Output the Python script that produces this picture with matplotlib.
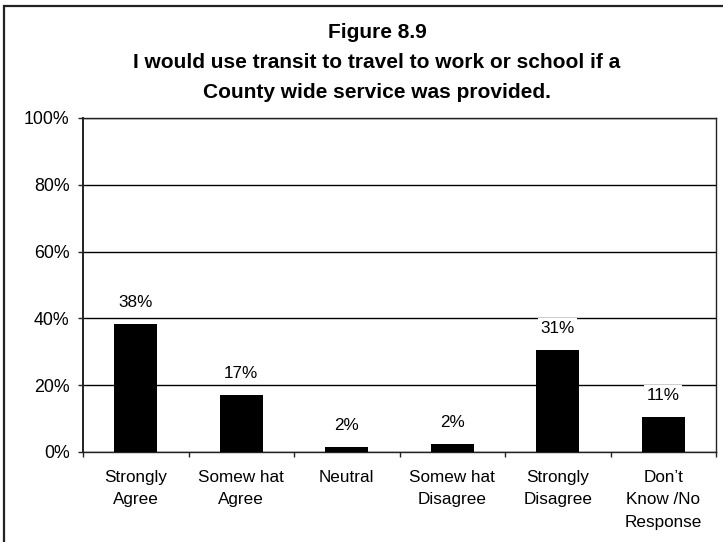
import matplotlib
matplotlib.use("Agg")
import matplotlib.pyplot as plt
from matplotlib.patches import Rectangle
from matplotlib.ticker import FixedLocator, FuncFormatter
import numpy as np

# Survey responses (share of respondents, %)
categories = ["Strongly\nAgree", "Somew hat\nAgree", "Neutral",
              "Somew hat\nDisagree", "Strongly\nDisagree",
              "Don\u2019t\nKnow /No\nResponse"]
shares = [38.4, 17.0, 1.5, 2.4, 30.6, 10.6]
y_ticks = [0, 20, 40, 60, 80, 100]

title_lines = ["Figure 8.9",
               "I would use transit to travel to work or school if a",
               "County wide service was provided."]

plt.rcParams["font.family"] = ["Liberation Sans", "DejaVu Sans"]

W, H, DPI = 723, 542, 100
fig = plt.figure(figsize=(W / DPI, H / DPI), dpi=DPI)
fig.patch.set_facecolor("white")

# Chart-area frame (runs off the right and bottom edges)
fig.add_artist(Rectangle((4 / W, -0.05), 1.2, 1 - 6 / H + 0.05,
                         transform=fig.transFigure, fill=False,
                         edgecolor="#222222", linewidth=1.6))

ax = fig.add_axes([83 / W, 1 - 452 / H, (716 - 83) / W, (452 - 118) / H])

x = np.arange(len(categories))
ax.bar(x, shares, width=0.41, color="black", zorder=3)

for xi, v in zip(x, shares):
    ax.annotate(f"{v:.0f}%", (xi, v), xytext=(0, 15.5), textcoords="offset points",
                ha="center", va="center", fontsize=12.3, zorder=4,
                bbox=dict(boxstyle="square,pad=0.15", facecolor="white",
                          edgecolor="none"))

ax.set_xlim(-0.5, len(categories) - 0.5)
ax.set_ylim(0, 100)

ax.yaxis.set_major_locator(FixedLocator(y_ticks))
ax.yaxis.set_major_formatter(FuncFormatter(lambda v, p: f"{v:.0f}%"))
ax.grid(axis="y", color="black", linewidth=1.0, zorder=1)

ax.set_xticks(x)
ax.set_xticklabels(categories, fontsize=12.3, linespacing=1.62)
ax.xaxis.set_minor_locator(FixedLocator(np.arange(-0.5, len(categories), 1.0)))
ax.tick_params(axis="x", which="major", length=0, pad=13)
ax.tick_params(axis="x", which="minor", length=3.5, width=1.0, color="#222222")
ax.tick_params(axis="y", which="major", length=3.6, width=1.0, pad=6,
               labelsize=12.8, color="#222222")

for side in ["left", "bottom", "right", "top"]:
    ax.spines[side].set_color("#222222")
    ax.spines[side].set_linewidth(1.0)
ax.spines["left"].set_linewidth(1.4)

ys = [1 - 33 / H, 1 - 63 / H, 1 - 92 / H]
for line, yy in zip(title_lines, ys):
    fig.text(377 / W, yy, line, ha="center", va="center", fontsize=15,
             fontweight="bold")

fig.savefig("out.png", dpi=DPI)
